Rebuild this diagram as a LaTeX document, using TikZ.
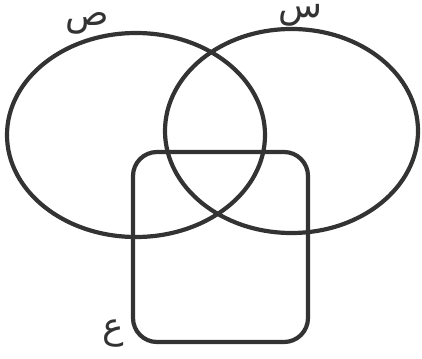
\documentclass[tikz,border=0pt]{standalone}
\usepackage{fontspec}
\newfontfamily\arabicfont[Script=Arabic]{DejaVu Sans}
\TeXXeTstate=1
\definecolor{ink}{HTML}{333333}
\begin{document}
\begin{tikzpicture}[x=1pt,y=-1pt,
  shape line/.style={draw=ink,line width=4.2pt},
  lbl/.style={text=ink,font=\arabicfont\fontsize{36}{40}\selectfont,inner sep=0pt,anchor=base}]
\useasboundingbox (0,0) rectangle (422,358);
\draw[shape line] (136,135) ellipse [x radius=129,y radius=102];
\draw[shape line] (291.5,131) ellipse [x radius=126.5,y radius=102];
\draw[shape line,rounded corners=24pt] (133,152) rectangle (308,342);
\node[lbl] (sad) at (87,26) {\beginR ص\endR};
\node[lbl] (sin) at (300,18) {\beginR س\endR};
\node[lbl] (ain) at (113,338) {\beginR ع\endR};
\end{tikzpicture}
\end{document}
